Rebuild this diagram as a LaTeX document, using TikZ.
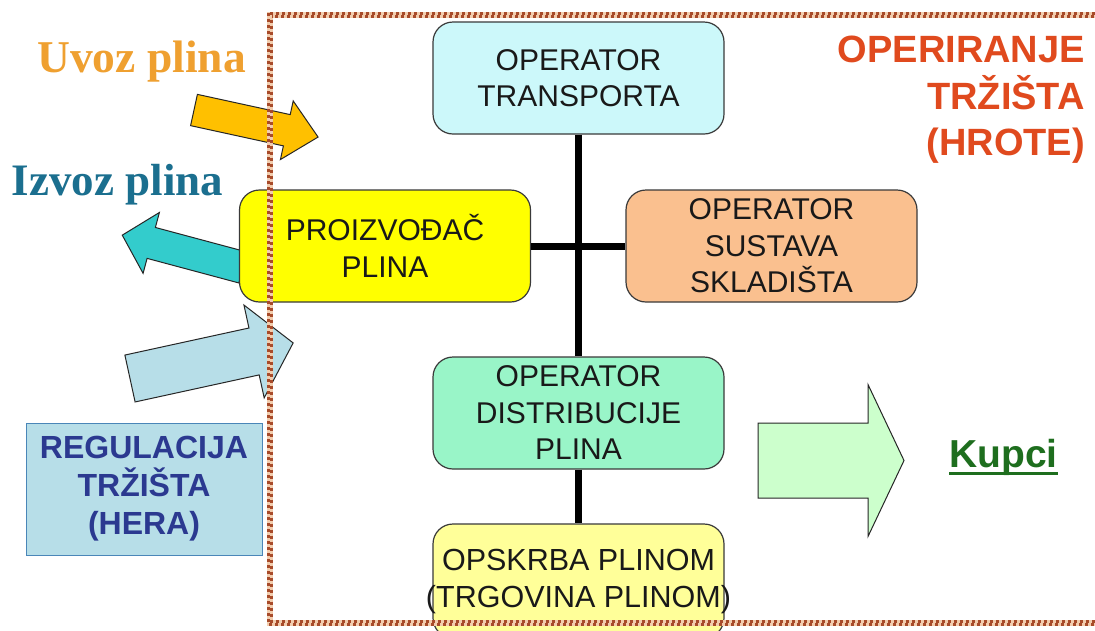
\documentclass[tikz,border=0pt]{standalone}
\usepackage{fontspec}
\setmainfont{Liberation Sans}
\newfontfamily\serifb{Liberation Serif}
\definecolor{uvozc}{HTML}{FFC000}
\definecolor{izvozc}{HTML}{33CCCC}
\definecolor{regc}{HTML}{B7DEE8}
\definecolor{kupcic}{HTML}{CCFFCC}
\definecolor{transc}{HTML}{CCF8FA}
\definecolor{skladc}{HTML}{FAC08F}
\definecolor{distc}{HTML}{99F5C8}
\definecolor{opskc}{HTML}{FFFF99}
\definecolor{proizc}{HTML}{FFFF00}
\definecolor{uvozt}{HTML}{EFA030}
\definecolor{izvozt}{HTML}{1B6F8F}
\definecolor{hrotet}{HTML}{E04A1E}
\definecolor{herat}{HTML}{2B3990}
\definecolor{herab}{HTML}{4A86B8}
\definecolor{kupcit}{HTML}{1E6E1E}
\definecolor{framedark}{HTML}{A84B2A}
\definecolor{framelight}{HTML}{F2CDAE}
\definecolor{boxline}{HTML}{3A3A3A}
\begin{document}
\begin{tikzpicture}[x=1pt,y=-1pt,
  orgbox/.style={draw=boxline, line width=1.2pt, rounded corners=20pt,
    minimum width=291pt, minimum height=112pt, inner sep=0pt, align=center,
    font=\fontsize{30}{36.5}\selectfont, text=black!90},
  blockarrow/.style={draw=black!85, line width=1pt, line join=miter},
  link/.style={line width=7pt, black}]
\clip (0,0) rectangle (1095,630);
\fill[white] (0,0) rectangle (1095,630);

% block arrows
\begin{scope}[shift={(194,110)}, rotate=-12.3]
  \draw[blockarrow, fill=uvozc] (0,-16) -- (95,-16) -- (95,-30) -- (127,0) -- (95,30) -- (95,16) -- (0,16) -- cycle;
\end{scope}
\begin{scope}[shift={(243,267.5)}, rotate=165]
  \draw[blockarrow, fill=izvozc] (0,-16) -- (95,-16) -- (95,-31.5) -- (125,0) -- (95,31.5) -- (95,16) -- (0,16) -- cycle;
\end{scope}
\begin{scope}[shift={(130,378.5)}, rotate=12.3]
  \draw[blockarrow, fill=regc] (0,-24) -- (127,-24) -- (127,-47.5) -- (167,0) -- (127,47.5) -- (127,24) -- (0,24) -- cycle;
\end{scope}
\begin{scope}[shift={(758,460.5)}]
  \draw[blockarrow, fill=kupcic] (0,-37.5) -- (110,-37.5) -- (110,-76) -- (146,0) -- (110,76) -- (110,37.5) -- (0,37.5) -- cycle;
\end{scope}

% boxes
\node[orgbox, fill=transc] (trans) at (578.5,78) {OPERATOR\\TRANSPORTA};
\node[orgbox, fill=proizc] (proiz) at (385,246) {PROIZVOĐAČ\\PLINA};
\node[orgbox, fill=skladc] (sklad) at (771.5,246) {OPERATOR\\SUSTAVA\\SKLADIŠTA};
\node[orgbox, fill=distc] (dist) at (578.5,413) {OPERATOR\\DISTRIBUCIJE\\PLINA};
\node[orgbox, fill=opskc, minimum height=114pt, inner xsep=-12pt, font=\fontsize{30.5}{37}\selectfont] (opsk) at (578.5,581) {OPSKRBA PLINOM\\(TRGOVINA PLINOM)};

% connectors
\draw[link] (trans.south) -- (dist.north);
\draw[link] (dist.south) -- (opsk.north);
\draw[link] (proiz.east) -- (sklad.west);

% regulation box
\node[draw=herab, line width=1pt, fill=regc, minimum width=236pt, minimum height=132pt,
  inner sep=0pt, align=center, text=herat,
  font=\bfseries\fontsize{32}{38}\selectfont] (hera) at (144,489) {REGULACIJA\\TRŽIŠTA\\(HERA)};

% texts
\node[anchor=base, inner sep=0pt, text=uvozt, font=\serifb\bfseries\fontsize{45.5}{50}\selectfont] (uvoz) at (141.5,72) {Uvoz plina};
\node[anchor=base, inner sep=0pt, text=izvozt, font=\serifb\bfseries\fontsize{45}{50}\selectfont] (izvoz) at (117.5,195) {Izvoz plina};
\node[anchor=base east, inner sep=0pt, text=hrotet, font=\bfseries\fontsize{38}{46}\selectfont] (hrote) at (1085,62)
  {\begin{tabular}[t]{@{}r@{}}OPERIRANJE\\TRŽIŠTA\\(HROTE)\end{tabular}};
\node[anchor=base, inner sep=0pt, text=kupcit, font=\bfseries\fontsize{39}{44}\selectfont] (kupci) at (1003.5,467) {Kupci};
\draw[kupcit, line width=3pt] ([yshift=-6pt]kupci.base west) -- ([yshift=-6pt]kupci.base east);

% frame (checkered dotted border)
\draw[framelight, line width=6.5pt] (270,15) rectangle (1110,623);
\draw[framedark, line width=3.2pt, dash pattern=on 3pt off 3pt] (268.4,13.4) rectangle (1111.6,624.6);
\draw[framedark, line width=3.2pt, dash pattern=on 3pt off 3pt, dash phase=3pt] (271.6,16.6) rectangle (1108.4,621.4);
\end{tikzpicture}
\end{document}
